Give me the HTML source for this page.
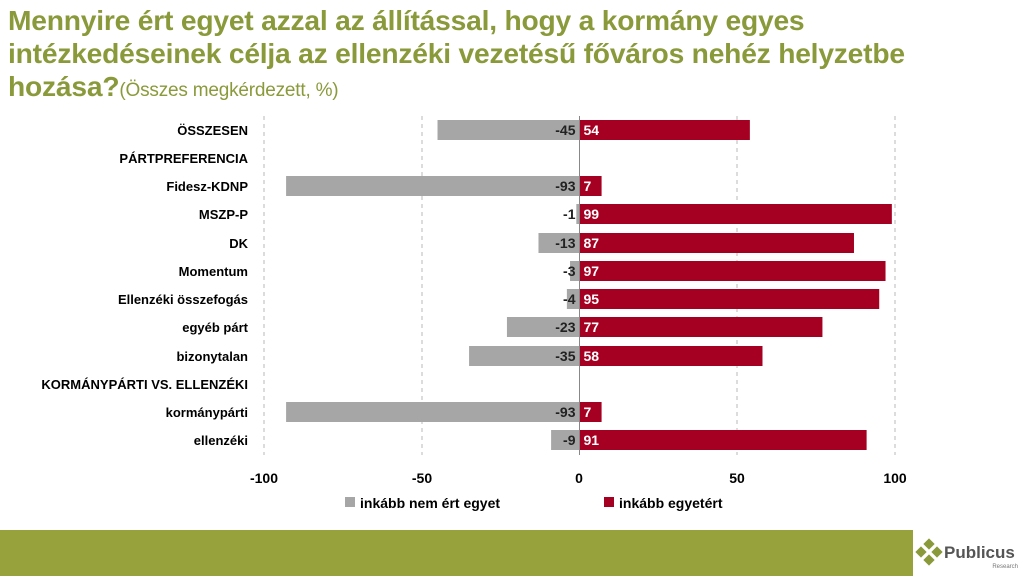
<!DOCTYPE html>
<html><head><meta charset="utf-8"><style>
body{margin:0;width:1024px;height:576px;overflow:hidden;background:#fff;font-family:"Liberation Sans",sans-serif}
.t{position:absolute;left:8px;top:4px;color:#8a9a3b;font-weight:bold;font-size:28.2px;line-height:33px;letter-spacing:-0.2px}
.t span{font-weight:normal;font-size:19px}
</style></head><body>
<div class="t">Mennyire ért egyet azzal az állítással, hogy a kormány egyes<br>intézkedéseinek célja az ellenzéki vezetésű főváros nehéz helyzetbe<br>hozása?<span>(Összes megkérdezett, %)</span></div>
<svg width="1024" height="576" style="position:absolute;left:0;top:0">
<g stroke="#d0d0d0" stroke-dasharray="4,4" stroke-width="1.5">
<line x1="264" y1="116" x2="264" y2="455"/><line x1="422" y1="116" x2="422" y2="455"/>
<line x1="737" y1="116" x2="737" y2="455"/><line x1="895" y1="116" x2="895" y2="455"/>
</g>
<g font-size="13" font-weight="bold" fill="#000" text-anchor="end">
<text x="248" y="135">ÖSSZESEN</text><text x="248" y="163">PÁRTPREFERENCIA</text>
<text x="248" y="191">Fidesz-KDNP</text><text x="248" y="219">MSZP-P</text>
<text x="248" y="248">DK</text><text x="248" y="276">Momentum</text>
<text x="248" y="304">Ellenzéki összefogás</text><text x="248" y="332">egyéb párt</text>
<text x="248" y="361">bizonytalan</text><text x="248" y="389">KORMÁNYPÁRTI VS. ELLENZÉKI</text>
<text x="248" y="417">kormánypárti</text><text x="248" y="445">ellenzéki</text>
</g>
<g id="bars"></g>
<line x1="579.5" y1="116" x2="579.5" y2="455" stroke="#888"/>
<g font-size="14" font-weight="bold" text-anchor="middle">
<text x="264" y="483">-100</text><text x="422" y="483">-50</text><text x="579" y="483">0</text><text x="737" y="483">50</text><text x="895" y="483">100</text>
</g>
<rect x="345" y="497" width="10" height="10" fill="#a6a6a6"/><text x="360" y="508" font-size="14" font-weight="bold">inkább nem ért egyet</text>
<rect x="604" y="497" width="10" height="10" fill="#a50021"/><text x="619" y="508" font-size="14" font-weight="bold">inkább egyetért</text>
<rect x="0" y="530" width="913" height="46" fill="#97a23d"/>
<g fill="#8a9a3b"><rect x="925" y="540" width="8" height="8" transform="rotate(45 929 544)"/><rect x="917" y="548" width="8" height="8" transform="rotate(45 921 552)"/><rect x="933" y="548" width="8" height="8" transform="rotate(45 937 552)"/><rect x="925" y="556" width="8" height="8" transform="rotate(45 929 560)"/></g>
<text x="944" y="558" font-size="17" font-weight="bold" fill="#555">Publicus</text>
<text x="1018" y="568" font-size="6" fill="#777" text-anchor="end">Research</text>
</svg>
<script>
var d=[[130,-45,54],[186,-93,7],[214,-1,99],[243,-13,87],[271,-3,97],[299,-4,95],[327,-23,77],[356,-35,58],[412,-93,7],[440,-9,91]];
var s='',k=3.155,z=579.5;
d.forEach(function(r){var y=r[0]-10;
s+='<rect x="'+(z+r[1]*k)+'" y="'+y+'" width="'+(-r[1]*k)+'" height="20" fill="#a6a6a6"/>';
s+='<rect x="'+z+'" y="'+y+'" width="'+(r[2]*k)+'" height="20" fill="#a50021"/>';
s+='<text x="'+(z-4)+'" y="'+(r[0]+5)+'" font-size="14" font-weight="bold" text-anchor="end" fill="#222">'+r[1]+'</text>';
s+='<text x="'+(z+4)+'" y="'+(r[0]+5)+'" font-size="14" font-weight="bold" fill="#fff">'+r[2]+'</text>';});
document.getElementById('bars').innerHTML=s;
</script>
</body></html>
